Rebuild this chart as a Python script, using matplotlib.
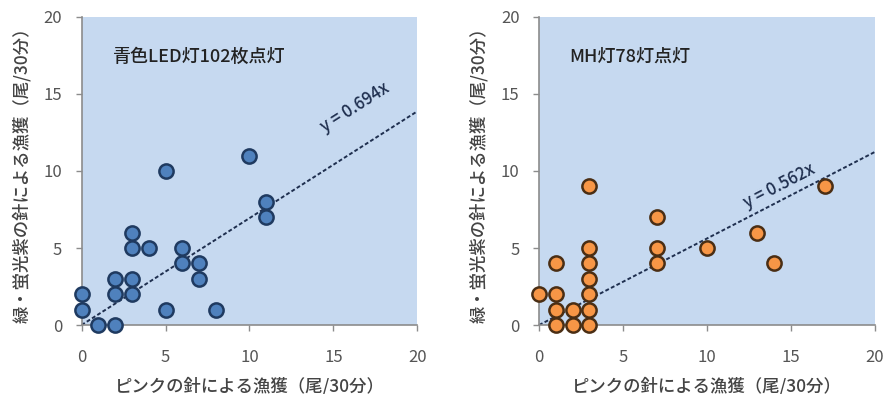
import matplotlib
matplotlib.use('Agg')
import matplotlib.pyplot as plt
import numpy as np

plt.rcParams['font.family'] = ['Noto Sans CJK JP', 'DejaVu Sans']

# blue LED panel
led_x = [0, 0, 1, 2, 2, 2, 3, 3, 3, 3, 4, 5, 5, 6, 6, 7, 7, 8, 10, 11, 11]
led_y = [2, 1, 0, 0, 3, 2, 6, 5, 3, 2, 5, 10, 1, 5, 4, 4, 3, 1, 11, 8, 7]
led_slope = 0.694

# MH lamp panel
mh_x = [0, 1, 1, 1, 1, 2, 2, 3, 3, 3, 3, 3, 3, 3, 7, 7, 7, 10, 13, 14, 17]
mh_y = [2, 4, 2, 1, 0, 1, 0, 9, 5, 4, 3, 2, 1, 0, 7, 5, 4, 5, 6, 4, 9]
mh_slope = 0.562

titles = ['青色LED灯102枚点灯', 'MH灯78灯点灯']
xlabel = 'ピンクの針による漁獲（尾/30分）'
ylabel = '緑・蛍光紫の針による漁獲（尾/30分）'
ticks = [0, 5, 10, 15, 20]

fig = plt.figure(figsize=(8.91, 3.94), dpi=100)
ax1 = fig.add_axes([0.0915, 0.175, 0.377, 0.782])
ax2 = fig.add_axes([0.605, 0.175, 0.377, 0.782])

panels = [
    (ax1, led_x, led_y, led_slope, '#4f81bd', '#1f3a60', titles[0], 1.9, (16.3, 14.1), 32.5),
    (ax2, mh_x, mh_y, mh_slope, '#f79646', '#4a2e14', titles[1], 1.8, (14.3, 9.0), 27.5),
]

for ax, xs, ys, k, fc, ec, title, tx, eqpos, rot in panels:
    ax.set_facecolor('#c6d9f0')
    ax.set_xlim(0, 20)
    ax.set_ylim(0, 20)
    ax.set_xticks(ticks)
    ax.set_yticks(ticks)
    line_x = np.array([0, 20])
    ax.plot(line_x, k * line_x, linestyle=(0, (2, 1.2)), color='#1f2f4f', lw=1.4, zorder=2)
    ax.scatter(xs, ys, s=105, c=fc, edgecolors=ec, linewidths=1.8, zorder=3, clip_on=False)
    ax.text(tx, 17.4, title, fontsize=13, fontweight='medium', color='#222222',
            va='center', ha='left')
    ax.text(eqpos[0], eqpos[1], f'y = {k}x', fontsize=12, fontweight='medium', color='#1f2f4f',
            rotation=rot, rotation_mode='anchor', ha='center', va='center')
    for s in ['top', 'right']:
        ax.spines[s].set_visible(False)
    for s in ['left', 'bottom']:
        ax.spines[s].set_color('#8c8c8c')
        ax.spines[s].set_linewidth(1.2)
    ax.tick_params(colors='#8c8c8c', labelcolor='#555555', labelsize=12, length=4, width=1)
    ax.tick_params(axis='x', pad=13)
    ax.tick_params(axis='y', pad=10)
    ax.set_xlabel(xlabel, fontsize=12.5, fontweight='medium', color='#444444', labelpad=8)
    ax.set_ylabel(ylabel, fontsize=12.5, fontweight='medium', color='#444444', labelpad=9)

fig.savefig('out.png', dpi=100)
